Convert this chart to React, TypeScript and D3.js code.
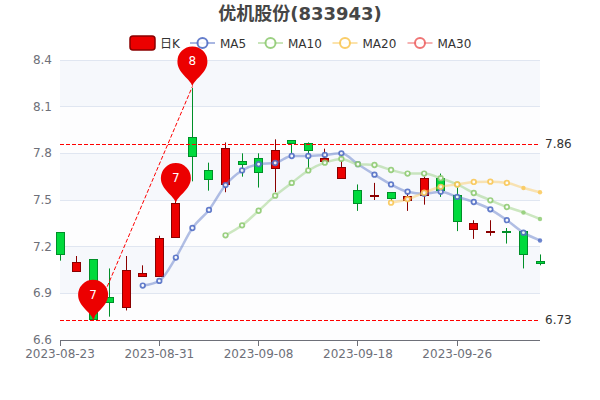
import React from "react";
import * as d3 from "d3";

const dates = ["2023-08-23","2023-08-24","2023-08-25","2023-08-28","2023-08-29","2023-08-30","2023-08-31","2023-09-01","2023-09-04","2023-09-05","2023-09-06","2023-09-07","2023-09-08","2023-09-11","2023-09-12","2023-09-13","2023-09-14","2023-09-15","2023-09-18","2023-09-19","2023-09-20","2023-09-21","2023-09-22","2023-09-25","2023-09-26","2023-09-27","2023-09-28","2023-10-09","2023-10-10","2023-10-11"];
// [open, close, low, high]
const kData: number[][] = [
  [7.29,7.15,7.11,7.29],[7.04,7.10,7.04,7.14],[7.12,6.73,6.73,7.12],[6.87,6.84,6.75,7.06],[6.81,7.05,6.79,7.14],
  [7.01,7.03,7.01,7.08],[7.01,7.25,7.01,7.27],[7.26,7.48,7.26,7.52],[7.90,7.78,7.62,8.22],[7.69,7.63,7.56,7.74],
  [7.60,7.83,7.55,7.87],[7.75,7.73,7.65,7.80],[7.77,7.68,7.58,7.80],[7.70,7.82,7.55,7.89],[7.88,7.86,7.80,7.88],
  [7.86,7.82,7.70,7.87],[7.75,7.77,7.74,7.83],[7.64,7.71,7.64,7.80],[7.56,7.48,7.43,7.60],[7.52,7.53,7.50,7.61],
  [7.55,7.51,7.49,7.55],[7.50,7.52,7.43,7.55],[7.53,7.64,7.47,7.65],[7.64,7.56,7.52,7.67],[7.53,7.36,7.30,7.58],
  [7.31,7.35,7.25,7.37],[7.29,7.30,7.27,7.37],[7.30,7.29,7.22,7.32],[7.30,7.15,7.06,7.30],[7.105,7.095,7.08,7.15],
];
const ma5 = [null,null,null,null,null,6.95,6.98,7.13,7.32,7.436,7.596,7.69,7.73,7.738,7.783,7.783,7.79,7.80,7.73,7.663,7.60,7.553,7.54,7.553,7.52,7.487,7.44,7.37,7.29,7.24];
const ma10 = [null,null,null,null,null,null,null,null,null,null,7.273,7.337,7.431,7.528,7.61,7.69,7.74,7.764,7.73,7.725,7.693,7.67,7.67,7.64,7.60,7.545,7.498,7.455,7.42,7.378];
const ma20 = [null,null,null,null,null,null,null,null,null,null,null,null,null,null,null,null,null,null,null,null,7.483,7.505,7.547,7.585,7.60,7.616,7.618,7.61,7.577,7.55];
const maSeries = [
  { name: "MA5", color: "#5470c6", values: ma5, smallFrom: 29 },
  { name: "MA10", color: "#91cc75", values: ma10, smallFrom: 28 },
  { name: "MA20", color: "#fac858", values: ma20, smallFrom: 28 },
];
const legendMA = [
  { name: "MA5", color: "#5470c6", x: 190 },
  { name: "MA10", color: "#91cc75", x: 258 },
  { name: "MA20", color: "#fac858", x: 332.5 },
  { name: "MA30", color: "#ee6666", x: 407.5 },
];
const yTicks = [6.6, 6.9, 7.2, 7.5, 7.8, 8.1, 8.4];
const hLines = [7.86, 6.73];
const pins = [
  { idx: 2, value: 6.73, label: "7" },
  { idx: 7, value: 7.48, label: "7" },
  { idx: 8, value: 8.23, label: "8" },
];
const diagonal = [
  { idx: 2, value: 6.73 },
  { idx: 8, value: 8.23 },
];
const tickIdx = [0, 6, 12, 18, 24];

const FONT = "'DejaVu Sans', 'Noto Sans CJK SC', sans-serif";
const left = 60, right = 540, top = 60, bottom = 340;
const x = d3.scaleLinear().domain([0, dates.length - 1]).range([left, right]);
const y = d3.scaleLinear().domain([6.6, 8.4]).range([bottom, top]);
const crisp = (v: number) => Math.round(v - 0.5) + 0.5;
const crispUp = (v: number) => Math.round(v) + 0.5;

function pinPath(tx: number, ty: number) {
  const r = 15, cy = ty - 25;
  return `M${tx} ${ty} C${tx - 2} ${ty - 8} ${tx - r} ${cy + 12} ${tx - r} ${cy} A${r} ${r} 0 1 1 ${tx + r} ${cy} C${tx + r} ${cy + 12} ${tx + 2} ${ty - 8} ${tx} ${ty} Z`;
}

export default function App() {
  const line = d3
    .line<number | null>()
    .defined((d) => d !== null)
    .x((_, i) => x(i))
    .y((d) => y(d as number))
    .curve(d3.curveMonotoneX);
  const bands = d3.range(yTicks.length - 1);
  return (
    <svg width={600} height={400} style={{ position: "absolute", left: 0, top: 0, background: "#fff" }} fontFamily={FONT}>
      <text x={300} y={20} textAnchor="middle" fontSize={18} fontWeight="bold" fill="#464646">优机股份(833943)</text>

      {bands.map((i) => (
        <rect key={i} x={left} width={right - left} y={y(yTicks[i + 1])} height={y(yTicks[i]) - y(yTicks[i + 1])}
          fill={i % 2 === 1 ? "#f6f8fc" : "#fdfdfe"} />
      ))}
      {yTicks.slice(1).map((t) => (
        <line key={t} x1={left} x2={right} y1={crisp(y(t))} y2={crisp(y(t))} stroke="#E0E6F1" />
      ))}
      <line x1={left} x2={right} y1={340.5} y2={340.5} stroke="#6E7079" />
      {tickIdx.map((i) => (
        <g key={i}>
          <line x1={crisp(x(i))} x2={crisp(x(i))} y1={340} y2={346} stroke="#6E7079" />
          <text x={x(i)} y={358} textAnchor="middle" fontSize={12} fill="#6E7079">{dates[i]}</text>
        </g>
      ))}
      {yTicks.map((t) => (
        <text key={t} x={52} y={y(t) + 4} textAnchor="end" fontSize={12} fill="#6E7079">{t.toFixed(1)}</text>
      ))}

      {kData.map(([o, c, l, h], i) => {
        const up = c > o;
        const stroke = up ? "#8A0000" : "#008F28";
        const fill = up ? "#ec0000" : "#00da3c";
        const px = crisp(x(i));
        const yTop = crisp(y(Math.max(o, c)));
        const yBot = crisp(y(Math.min(o, c)));
        return (
          <g key={i}>
            <line x1={px} x2={px} y1={y(h)} y2={y(l)} stroke={stroke} />
            <rect x={px - 4} width={8} y={yTop} height={Math.max(1, yBot - yTop)} fill={fill} stroke={stroke} />
          </g>
        );
      })}

      {hLines.map((v) => (
        <g key={v}>
          <line x1={left} x2={right} y1={crispUp(y(v))} y2={crispUp(y(v))} stroke="#f00" strokeDasharray="4 2" />
          <text x={545} y={y(v) + 4} fontSize={12} fill="#333">{v.toFixed(2)}</text>
        </g>
      ))}
      <line x1={x(diagonal[0].idx)} y1={y(diagonal[0].value)} x2={x(diagonal[1].idx)} y2={y(diagonal[1].value)} stroke="#f00" strokeDasharray="4 2" />

      {pins.map((p, i) => (
        <g key={i}>
          <path d={pinPath(x(p.idx), y(p.value))} fill="#ec0000" />
          <text x={x(p.idx)} y={y(p.value) - 21} textAnchor="middle" fontSize={12} fill="#fff">{p.label}</text>
        </g>
      ))}

      {maSeries.map((s) => (
        <g key={s.name}>
          <path d={line(s.values) ?? ""} fill="none" stroke={s.color} strokeOpacity={0.45} strokeWidth={2.5} />
          {s.values.map((v, i) =>
            v === null ? null : i >= s.smallFrom ? (
              <circle key={i} cx={x(i)} cy={y(v)} r={2.2} fill={s.color} opacity={0.85} />
            ) : (
              <circle key={i} cx={x(i)} cy={y(v)} r={2.3} fill="#fff" stroke={s.color} strokeWidth={1.7} opacity={0.9} />
            )
          )}
        </g>
      ))}

      <rect x={130} y={36} width={25} height={14} rx={3} fill="#ec0000" stroke="#8A0000" strokeWidth={1.5} />
      <text x={160} y={47.5} fontSize={12} fill="#333">日K</text>
      {legendMA.map((m) => (
        <g key={m.name}>
          <line x1={m.x} x2={m.x + 25} y1={43} y2={43} stroke={m.color} strokeOpacity={0.5} strokeWidth={2} />
          <circle cx={m.x + 12.5} cy={43} r={5} fill="#fff" stroke={m.color} strokeWidth={2} opacity={0.9} />
          <text x={m.x + 30} y={47.5} fontSize={12} fill="#333">{m.name}</text>
        </g>
      ))}
    </svg>
  );
}
